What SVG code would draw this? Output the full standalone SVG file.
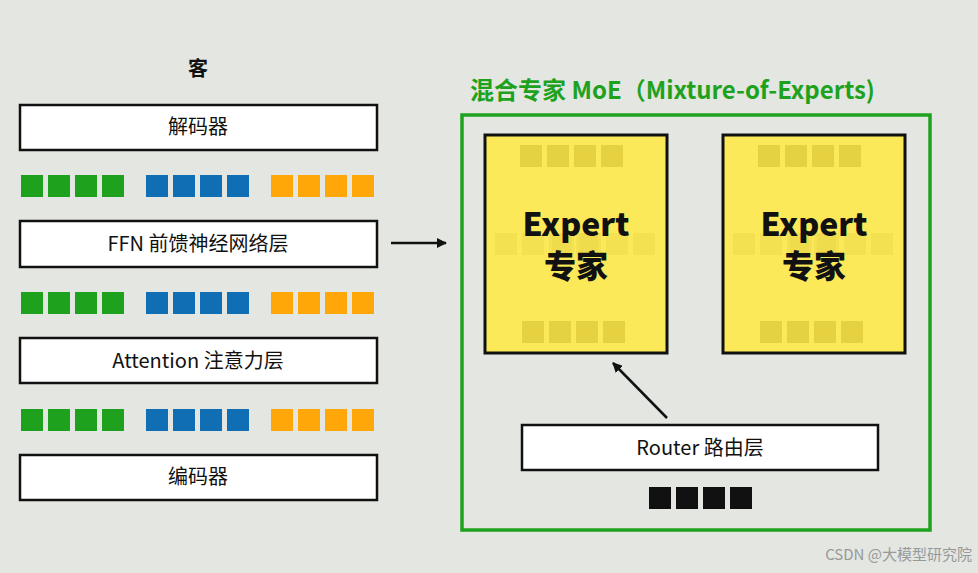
<svg xmlns="http://www.w3.org/2000/svg" width="978" height="573" viewBox="0 0 978 573">
<style>
.box{fill:#fff;stroke:#111;stroke-width:2.5}
.t{font-family:"Noto Sans CJK SC","Noto Sans",sans-serif;font-size:20px;fill:#111;text-anchor:middle}
.g{fill:#1ea21e}.b{fill:#0f6eb4}.o{fill:#ffa708}.k{fill:#111}.f{fill:#e6d240}
.exp{fill:#fbe95a;stroke:#111;stroke-width:3}
.et{font-family:"Noto Sans CJK SC",sans-serif;font-weight:900;font-size:32px;fill:#111;text-anchor:middle}
</style>
<defs>
<marker id="ah" markerWidth="10" markerHeight="10" refX="9" refY="5" orient="auto" markerUnits="userSpaceOnUse"><path d="M0,0 L10,5 L0,10 z" fill="#111"/></marker>
<g id="row"><rect x="0" width="22" height="22"/><rect x="27" width="22" height="22"/><rect x="54" width="22" height="22"/><rect x="81" width="22" height="22"/></g>
<g id="tri"><use href="#row" x="21" class="g"/><use href="#row" x="146" class="b"/><use href="#row" x="271" class="o"/></g>
</defs>
<rect width="978" height="573" fill="#e3e6e1"/>
<g id="left">
<text x="198" y="76" class="t" font-weight="bold" font-size="26">客</text>
<g id="decoder"><rect class="box" x="20" y="105" width="357" height="45"/><text class="t" x="198" y="134">解码器</text></g>
<use href="#tri" y="175"/>
<g id="ffn"><rect class="box" x="20" y="221" width="357" height="46"/><text class="t" x="198" y="251">FFN 前馈神经网络层</text></g>
<use href="#tri" y="292"/>
<g id="attn"><rect class="box" x="20" y="338" width="357" height="45"/><text class="t" x="198" y="368">Attention 注意力层</text></g>
<use href="#tri" y="409"/>
<g id="encoder"><rect class="box" x="20" y="455" width="357" height="45"/><text class="t" x="198" y="484">编码器</text></g>
</g>
<g id="moe">
<text x="470" y="99" font-family="Noto Sans CJK SC,sans-serif" font-weight="bold" font-size="24" fill="#1ea21e">混合专家 MoE（Mixture-of-Experts)</text>
<rect x="462" y="115" width="468" height="415" fill="none" stroke="#1ea21e" stroke-width="3.5"/>
</g>
<g id="expert1"><rect class="exp" x="485" y="135" width="182" height="218"/>
<use href="#row" x="520" y="145" class="f"/><use href="#row" x="495" y="233" class="f" opacity="0.3"/><use href="#row" x="552" y="233" class="f" opacity="0.3"/><use href="#row" x="522" y="321" class="f"/>
<text class="et" x="576" y="236">Expert</text><text class="et" x="576" y="278" font-size="29">专家</text></g>
<g id="expert2"><rect class="exp" x="723" y="135" width="182" height="218"/>
<use href="#row" x="758" y="145" class="f"/><use href="#row" x="733" y="233" class="f" opacity="0.3"/><use href="#row" x="790" y="233" class="f" opacity="0.3"/><use href="#row" x="760" y="321" class="f"/>
<text class="et" x="814" y="236">Expert</text><text class="et" x="814" y="278" font-size="29">专家</text></g>
<g id="router"><rect class="box" x="522" y="425" width="356" height="45"/><text class="t" x="700" y="455">Router 路由层</text>
<use href="#row" x="649" y="487" class="k"/></g>
<g id="connectors" stroke="#111" stroke-width="2.5" fill="none">
<line x1="391" y1="243" x2="446" y2="243" marker-end="url(#ah)"/>
<line x1="667" y1="418" x2="613" y2="363" marker-end="url(#ah)"/>
</g>
<text x="972" y="560" font-family="Noto Sans CJK SC,sans-serif" font-size="15" fill="#999" text-anchor="end">CSDN @大模型研究院</text>
</svg>
